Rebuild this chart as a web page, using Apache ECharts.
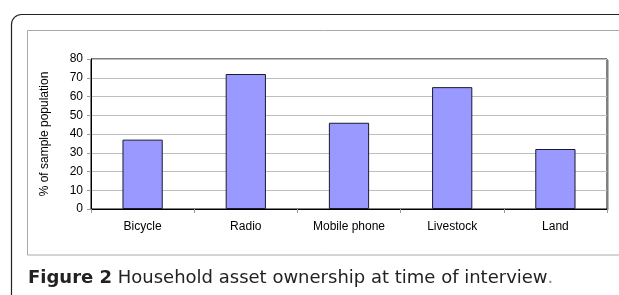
<!DOCTYPE html>
<html>
<head>
<meta charset="utf-8">
<script src="https://cdn.jsdelivr.net/npm/echarts@6/dist/echarts.min.js"></script>
<style>
	html, body { margin: 0; padding: 0; background: #fff; }
	#chart { width: 619px; height: 295px; }
</style>
</head>
<body>
<div id="chart"></div>
<script>
// values
var categories = ['Bicycle', 'Radio', 'Mobile phone', 'Livestock', 'Land'];
var ownership = [37, 72, 46, 65, 32];
var yTicks = [0, 10, 20, 30, 40, 50, 60, 70, 80];

var chart = echarts.init(document.getElementById('chart'));
var option = {
	animation: false,
	grid: {
		left: 91, top: 59, right: 12, bottom: 86,
		show: true, borderColor: '#000', borderWidth: 1,
		backgroundColor: 'transparent'
	},
	xAxis: {
		type: 'category',
		data: categories,
		axisLine: { lineStyle: { color: '#000', width: 1 } },
		axisTick: { show: true, length: 4, lineStyle: { color: '#999' } },
		axisLabel: { color: '#000', fontFamily: 'Liberation Sans', fontSize: 12, margin: 12 }
	},
	yAxis: {
		type: 'value',
		min: yTicks[0],
		max: yTicks[yTicks.length - 1],
		interval: 10,
		name: '% of sample population',
		nameLocation: 'middle',
		nameGap: 40,
		nameRotate: 90,
		nameTextStyle: { color: '#000', fontFamily: 'Liberation Sans', fontSize: 12 },
		axisLine: { show: true, lineStyle: { color: '#000', width: 1 } },
		axisTick: { show: true, length: 4, lineStyle: { color: '#999' } },
		axisLabel: { color: '#000', fontFamily: 'Liberation Sans', fontSize: 12, margin: 8 },
		splitLine: { lineStyle: { color: '#bdbdbd', width: 1 } }
	},
	series: [{
		type: 'bar',
		data: ownership,
		barWidth: '39%',
		itemStyle: { color: '#9999ff', borderColor: '#1a1a33', borderWidth: 1 }
	}],
	graphic: [
		// outer rounded frame, cut off by the page edge
		{
			type: 'rect', silent: true,
			shape: { x: 11.5, y: 14.5, width: 700, height: 400, r: 10 },
			style: { fill: 'none', stroke: '#222', lineWidth: 1.2 }
		},
		// inner chart box
		{
			type: 'rect', silent: true,
			shape: { x: 27.5, y: 30.5, width: 700, height: 224.5 },
			style: { fill: 'none', stroke: '#aaa', lineWidth: 1 }
		},
		// light shadow at the plot's right edge
		{
			type: 'line', silent: true,
			shape: { x1: 608.5, y1: 60, x2: 608.5, y2: 210 },
			style: { stroke: '#bbb', lineWidth: 1 }
		},
		{
			type: 'text', left: 28, top: 269,
			style: {
				text: '{b|Figure 2} Household asset ownership at time of interview{p|.}',
				rich: {
					b: { fontWeight: 'bold', fontFamily: 'DejaVu Sans', fontSize: 18, fill: '#222' },
					p: { fontFamily: 'DejaVu Sans', fontSize: 18, fill: '#888' }
				},
				fontFamily: 'DejaVu Sans', fontSize: 18, fill: '#222'
			}
		}
	]
};
chart.setOption(option);
</script>
</body>
</html>
